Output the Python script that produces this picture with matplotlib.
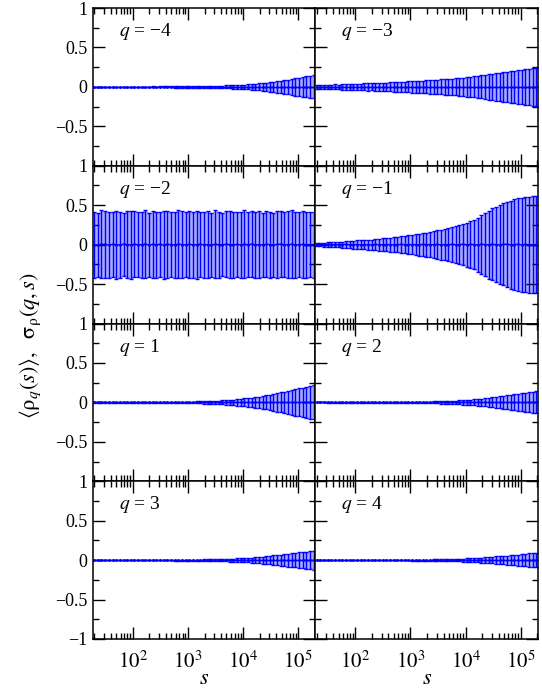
import numpy as np
import matplotlib
matplotlib.use('Agg')
import matplotlib.pyplot as plt
from matplotlib.ticker import FixedLocator, LogLocator, NullFormatter

plt.rcParams['font.family'] = 'serif'
plt.rcParams['font.serif'] = ['Liberation Serif', 'DejaVu Serif']
plt.rcParams['mathtext.fontset'] = 'stix'

# segment sizes s (log spaced)
s = [20, 23, 27, 32, 37, 43, 50, 58, 68, 79,
     92, 107, 125, 146, 170, 198, 231, 269, 313, 365,
     425, 495, 577, 672, 783, 912, 1062, 1238, 1442, 1680,
     1957, 2280, 2656, 3094, 3605, 4200, 4893, 5700, 6641, 7737,
     9013, 10500, 12233, 14252, 16603, 19343, 22535, 26254, 30586, 35633,
     41513, 48363, 56344, 65642, 76474, 89094, 103795, 120923, 140877, 164125,
     191209]

q_values = [-4, -3, -2, -1, 1, 2, 3, 4]

# standard deviations sigma_rho(q,s)
sig_m4 = [0.002, 0.002, 0.002, 0.003, 0.002, 0.003, 0.003, 0.003, 0.003, 0.004,
          0.004, 0.004, 0.005, 0.004, 0.005, 0.005, 0.006, 0.005, 0.006, 0.006,
          0.007, 0.007, 0.008, 0.008, 0.008, 0.009, 0.010, 0.009, 0.011, 0.011,
          0.012, 0.013, 0.013, 0.015, 0.015, 0.017, 0.018, 0.020, 0.021, 0.024,
          0.026, 0.029, 0.031, 0.035, 0.040, 0.045, 0.048, 0.053, 0.060, 0.066,
          0.072, 0.080, 0.086, 0.093, 0.100, 0.110, 0.118, 0.125, 0.133, 0.140,
          0.147]
sig_m3 = [0.022, 0.026, 0.024, 0.028, 0.027, 0.031, 0.030, 0.033, 0.035, 0.034,
          0.038, 0.040, 0.039, 0.044, 0.046, 0.045, 0.049, 0.051, 0.053, 0.052,
          0.057, 0.060, 0.062, 0.061, 0.066, 0.070, 0.072, 0.075, 0.078, 0.080,
          0.083, 0.086, 0.088, 0.093, 0.095, 0.099, 0.102, 0.106, 0.109, 0.114,
          0.118, 0.122, 0.128, 0.133, 0.139, 0.146, 0.152, 0.160, 0.166, 0.173,
          0.180, 0.187, 0.194, 0.200, 0.207, 0.213, 0.220, 0.226, 0.231, 0.236,
          0.240]
sig_m2 = [0.42, 0.41, 0.43, 0.42, 0.42, 0.41, 0.43, 0.42, 0.40, 0.42,
          0.43, 0.42, 0.41, 0.42, 0.43, 0.41, 0.42, 0.42, 0.41, 0.43,
          0.42, 0.41, 0.42, 0.43, 0.42, 0.41, 0.42, 0.42, 0.43, 0.41,
          0.42, 0.42, 0.41, 0.43, 0.42, 0.40, 0.42, 0.43, 0.42, 0.41,
          0.42, 0.43, 0.41, 0.42, 0.42, 0.43, 0.41, 0.42, 0.42, 0.41,
          0.43, 0.42, 0.41, 0.42, 0.43, 0.42, 0.41, 0.42, 0.42, 0.41,
          0.42]
sig_m1 = [0.018, 0.022, 0.025, 0.027, 0.030, 0.032, 0.035, 0.038, 0.042, 0.045,
          0.050, 0.053, 0.055, 0.060, 0.062, 0.066, 0.072, 0.075, 0.080, 0.086,
          0.090, 0.095, 0.100, 0.106, 0.112, 0.118, 0.125, 0.130, 0.138, 0.145,
          0.152, 0.160, 0.168, 0.178, 0.188, 0.198, 0.208, 0.220, 0.232, 0.245,
          0.260, 0.275, 0.292, 0.315, 0.340, 0.370, 0.400, 0.430, 0.455, 0.475,
          0.500, 0.520, 0.540, 0.560, 0.575, 0.588, 0.598, 0.605, 0.610, 0.615,
          0.618]
sig_p1 = [0.002, 0.002, 0.002, 0.002, 0.003, 0.003, 0.003, 0.003, 0.003, 0.004,
          0.004, 0.004, 0.004, 0.005, 0.005, 0.005, 0.006, 0.006, 0.006, 0.007,
          0.007, 0.008, 0.008, 0.009, 0.009, 0.010, 0.011, 0.011, 0.012, 0.013,
          0.015, 0.017, 0.018, 0.021, 0.023, 0.026, 0.029, 0.033, 0.036, 0.040,
          0.045, 0.050, 0.054, 0.060, 0.067, 0.073, 0.081, 0.088, 0.098, 0.107,
          0.116, 0.127, 0.136, 0.147, 0.158, 0.167, 0.178, 0.188, 0.198, 0.208,
          0.217]
sig_p2 = [0.001, 0.001, 0.001, 0.002, 0.002, 0.002, 0.002, 0.002, 0.002, 0.003,
          0.003, 0.003, 0.003, 0.003, 0.003, 0.004, 0.004, 0.004, 0.004, 0.005,
          0.005, 0.005, 0.005, 0.006, 0.006, 0.006, 0.007, 0.007, 0.008, 0.008,
          0.010, 0.011, 0.012, 0.014, 0.015, 0.017, 0.019, 0.021, 0.023, 0.026,
          0.029, 0.032, 0.035, 0.039, 0.043, 0.047, 0.052, 0.057, 0.063, 0.069,
          0.075, 0.082, 0.088, 0.095, 0.102, 0.108, 0.115, 0.121, 0.128, 0.134,
          0.140]
sig_p3 = [0.001, 0.001, 0.001, 0.001, 0.002, 0.002, 0.002, 0.002, 0.002, 0.002,
          0.002, 0.003, 0.003, 0.003, 0.003, 0.003, 0.003, 0.004, 0.004, 0.004,
          0.004, 0.004, 0.005, 0.005, 0.005, 0.005, 0.006, 0.006, 0.007, 0.007,
          0.008, 0.009, 0.010, 0.012, 0.013, 0.014, 0.016, 0.018, 0.020, 0.022,
          0.025, 0.027, 0.030, 0.033, 0.037, 0.040, 0.044, 0.048, 0.054, 0.059,
          0.064, 0.070, 0.075, 0.081, 0.087, 0.092, 0.098, 0.103, 0.109, 0.114,
          0.119]
sig_p4 = [0.001, 0.001, 0.001, 0.001, 0.001, 0.001, 0.001, 0.002, 0.002, 0.002,
          0.002, 0.002, 0.002, 0.002, 0.002, 0.003, 0.003, 0.003, 0.003, 0.003,
          0.003, 0.003, 0.004, 0.004, 0.004, 0.004, 0.005, 0.005, 0.005, 0.005,
          0.007, 0.007, 0.008, 0.009, 0.010, 0.011, 0.013, 0.014, 0.015, 0.017,
          0.019, 0.021, 0.023, 0.026, 0.028, 0.031, 0.034, 0.038, 0.042, 0.046,
          0.050, 0.054, 0.058, 0.063, 0.067, 0.071, 0.076, 0.080, 0.084, 0.088,
          0.092]

# mean <rho_q(s)>
mean_m2 = [0.000, -0.005, 0.004, 0.002, -0.006, 0.003, 0.000, -0.004, 0.005, 0.001,
           -0.003, 0.004, -0.002, 0.000, 0.006, -0.004, 0.002, -0.001, 0.003, -0.005,
           0.002, 0.000, -0.003, 0.004, 0.001, -0.002, 0.003, -0.004, 0.000, 0.005,
           -0.002, 0.001, -0.006, 0.003, 0.000, -0.003, 0.004, 0.001, -0.002, 0.002,
           -0.004, 0.003, 0.000, 0.005, -0.002, 0.001, -0.003, 0.004, 0.000, -0.005,
           0.002, 0.006, -0.002, 0.001, 0.003, -0.004, 0.000, 0.002, -0.003, 0.001,
           0.000]
mean_m1 = [0.000, 0.001, -0.001, 0.002, 0.000, -0.002, 0.001, 0.000, 0.002, -0.001,
           0.000, 0.001, -0.002, 0.001, 0.000, -0.001, 0.002, 0.000, -0.001, 0.001,
           0.000, -0.002, 0.001, 0.002, 0.000, -0.001, 0.001, 0.000, -0.002, 0.002,
           0.001, -0.001, 0.000, 0.002, -0.003, 0.001, 0.000, 0.003, -0.002, 0.001,
           0.004, -0.003, 0.002, 0.000, -0.004, 0.003, 0.001, -0.002, 0.004, 0.000,
           -0.003, 0.002, 0.005, -0.002, 0.001, 0.004, -0.003, 0.002, 0.000, -0.002,
           0.001]
mean_zero = [0.0] * len(s)

sigmas = [sig_m4, sig_m3, sig_m2, sig_m1, sig_p1, sig_p2, sig_p3, sig_p4]
means = [mean_zero, mean_zero, mean_m2, mean_m1, mean_zero, mean_zero, mean_zero, mean_zero]

yticks = [-1, -0.5, 0, 0.5, 1]
ytick_labels = ['\u22121', '\u22120.5', '0', '0.5', '1']
xticks = [1e2, 1e3, 1e4, 1e5]
xtick_labels = [r'$10^{2}$', r'$10^{3}$', r'$10^{4}$', r'$10^{5}$']

fig, axes = plt.subplots(4, 2, figsize=(5.42, 6.92), dpi=100)
fig.subplots_adjust(left=0.1716, right=0.9926, top=0.9884, bottom=0.0766,
                    wspace=0, hspace=0)

blue = '#0000ff'
for i, ax in enumerate(axes.flat):
    row, col = divmod(i, 2)
    m = np.array(means[i])
    sg = np.array(sigmas[i])
    # light shading between the dense bars
    ax.fill_between(s, m - sg, m + sg, color='#a8a8ff', lw=0, zorder=1)
    ax.errorbar(s, m, yerr=sg, fmt='-o', color=blue, ms=1.0,
                lw=1.0, ecolor=blue, elinewidth=1.0, capsize=1.3, capthick=1.0,
                zorder=2)
    ax.set_xscale('log')
    ax.set_xlim(19, 2.06e5)
    ax.set_ylim(-1, 1)
    ax.yaxis.set_major_locator(FixedLocator(yticks))
    ax.yaxis.set_minor_locator(FixedLocator([-0.75, -0.25, 0.25, 0.75]))
    ax.xaxis.set_major_locator(FixedLocator(xticks))
    ax.xaxis.set_minor_locator(LogLocator(base=10, subs=np.arange(2, 10), numticks=20))
    ax.xaxis.set_minor_formatter(NullFormatter())
    ax.tick_params(which='both', direction='in', top=True, right=True,
                   labelsize=13, width=1.0, pad=4)
    ax.tick_params(axis='x', labelsize=15, pad=9)
    ax.tick_params(which='major', length=8.5)
    ax.tick_params(which='minor', length=4.3)
    for sp in ax.spines.values():
        sp.set_linewidth(1.1)
    if col == 0:
        labels = list(ytick_labels)
        if row < 3:
            labels[0] = ''
        ax.set_yticklabels(labels)
    else:
        ax.set_yticklabels([])
    if row == 3:
        ax.set_xticklabels(xtick_labels)
        ax.set_xlabel(r'$s$', fontsize=16, labelpad=-2)
    else:
        ax.set_xticklabels([])
    ax.text(0.115, 0.85, r'$q$ = %s' % str(q_values[i]).replace('-', '\u2212'),
            transform=ax.transAxes, fontsize=14, va='center', ha='left')

fig.text(0.055, 0.5, r'$\langle\mathrm{\rho}_q(s)\rangle,\ \ \mathrm{\sigma}_\mathrm{\rho}(q,s)$',
         rotation=90, fontsize=16, va='center', ha='center')

fig.savefig('out.png', dpi=100)
